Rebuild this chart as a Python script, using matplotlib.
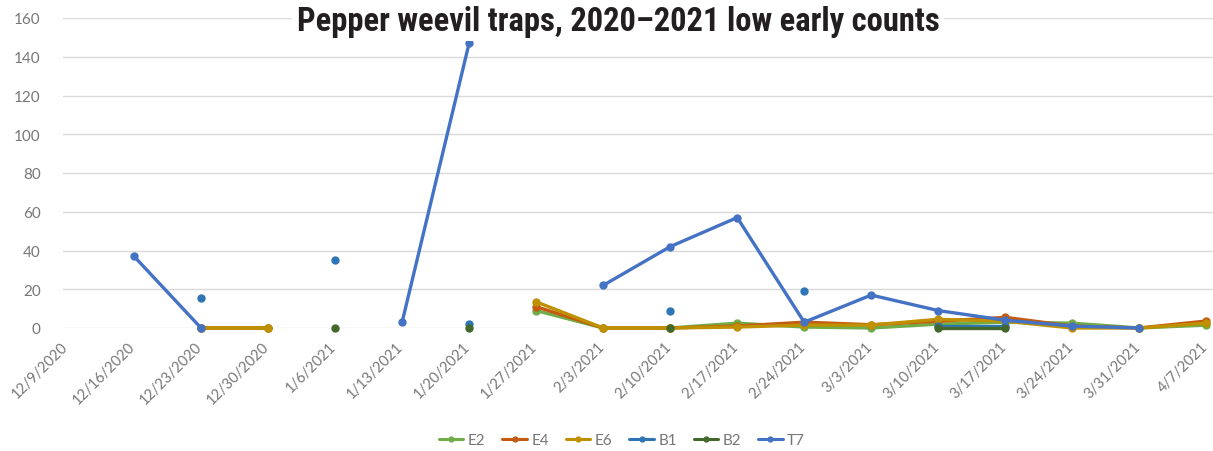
import numpy as np
import matplotlib
matplotlib.use("Agg")
import matplotlib.pyplot as plt
from matplotlib import font_manager as fm
from matplotlib.transforms import ScaledTranslation

# Weekly trap check dates
dates = ["12/9/2020", "12/16/2020", "12/23/2020", "12/30/2020", "1/6/2021",
         "1/13/2021", "1/20/2021", "1/27/2021", "2/3/2021", "2/10/2021",
         "2/17/2021", "2/24/2021", "3/3/2021", "3/10/2021", "3/17/2021",
         "3/24/2021", "3/31/2021", "4/7/2021"]

nan = np.nan
# Weevil counts per trap (nan = no reading that week)
e2 = [nan, nan, 0, 0, nan, nan, nan, 9, 0, 0, 2.5, 0.5, 0, 2, 3, 2.5, 0, 1.5]
e4 = [nan, nan, 0, 0, nan, nan, nan, 11, 0, 0, 1, 3, 1.7, 3.5, 5.5, 1, 0, 3.6]
e6 = [nan, nan, 0, 0, nan, nan, nan, 13.5, 0, 0, 0.5, 1.5, 1.5, 4.5, 3.5, 0, 0, 2.5]
b1 = [nan, nan, 15.5, nan, 35, nan, 2, nan, nan, 9, nan, 19, nan, 1, 1, nan, nan, nan]
b2 = [nan, nan, nan, nan, 0, nan, 0, nan, nan, 0, nan, nan, nan, 0, 0, nan, nan, nan]
t7 = [nan, 37, 0, nan, nan, 3, 147, nan, 22, 42, 57, 3, 17, 9, 4, 1, 0, nan]

series = [("E2", e2, "#70AD47"), ("E4", e4, "#C55A11"), ("E6", e6, "#BF9000"),
          ("B1", b1, "#2E75B6"), ("B2", b2, "#43682B"), ("T7", t7, "#4472C4")]

names = {f.name for f in fm.fontManager.ttflist}
tick_font = "Lato" if "Lato" in names else "DejaVu Sans"
title_font = next((n for n in ["Liberation Sans Narrow", "DejaVu Sans Condensed",
                               "Roboto Condensed"] if n in names), "DejaVu Sans")
label_grey = "#777777"

W, H = 1213, 452
fig = plt.figure(figsize=(W / 100, H / 100), dpi=100)
ax = fig.add_axes([63 / W, (H - 329) / H, (W - 63) / W, 310 / H])

x = np.arange(len(dates))
for name, vals, col in series:
    ax.plot(x, vals, color=col, lw=2.4, marker="o", ms=5, label=name,
            clip_on=False, solid_capstyle="round")

ax.set_xlim(-0.06, 17.1)
ax.set_ylim(0, 160)
ax.set_yticks(np.arange(0, 161, 20))
ax.grid(axis="y", color="#D9D9D9", lw=1)
ax.set_axisbelow(True)
for s in ax.spines.values():
    s.set_visible(False)
ax.tick_params(length=0, labelcolor=label_grey, labelsize=11)
ax.tick_params(axis="y", pad=16)
ax.set_xticks(x)
ax.set_xticklabels(dates, rotation=45, ha="right", va="top",
                   rotation_mode="anchor", fontfamily=tick_font, fontsize=10.5)
ax.tick_params(axis="x", pad=8)
shift = ScaledTranslation(-6 / 100, 0, fig.dpi_scale_trans)
for lab in ax.get_xticklabels():
    lab.set_transform(lab.get_transform() + shift)
for lab in ax.get_yticklabels():
    lab.set_fontfamily(tick_font)

fig.text(618 / W, 1 - 22 / H, "Pepper weevil traps, 2020\u20132021 low early counts",
         ha="center", va="center", fontsize=23.5, fontweight="bold",
         fontfamily=title_font, fontstretch="condensed", color="#231F20",
         bbox=dict(facecolor="white", edgecolor="none", pad=3))

leg = fig.legend(loc="center", bbox_to_anchor=(622 / W, 1 - 441 / H), ncol=6,
                 frameon=False, handlelength=1.6, columnspacing=1.1,
                 handletextpad=0.3, prop={"family": tick_font, "size": 11})
for t in leg.get_texts():
    t.set_color(label_grey)
for h in leg.legend_handles:
    h.set_markersize(3.5)
    h.set_linewidth(2.2)

fig.savefig("out.png", dpi=100)
